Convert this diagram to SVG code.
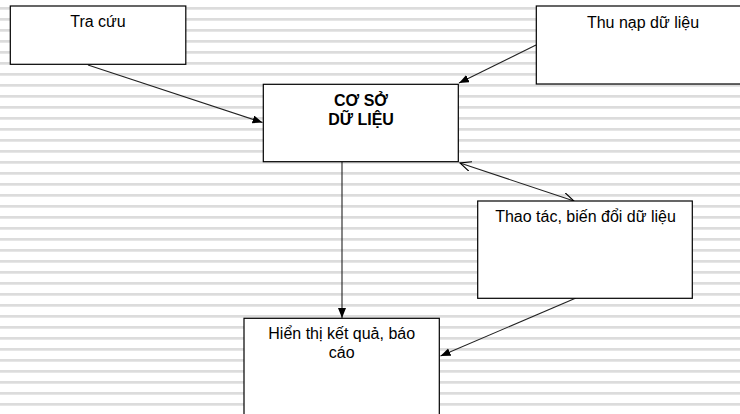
<svg xmlns="http://www.w3.org/2000/svg" width="740" height="414" viewBox="0 0 740 414">
<style>
.box{fill:#fff;stroke:#000;stroke-width:1.2}
.t{font-family:"Liberation Sans",Arial,sans-serif;font-size:16px;fill:#000;text-anchor:middle}
.b{font-weight:bold}
.c{stroke:#222;stroke-width:1.1;fill:none}
</style>
<defs>
<pattern id="stripes" x="0" y="0" width="740" height="11" patternUnits="userSpaceOnUse">
<rect x="0" y="7" width="740" height="2.7" fill="#dcdcdc"/>
</pattern>
<marker id="af" markerUnits="userSpaceOnUse" markerWidth="12" markerHeight="10" refX="10" refY="4" orient="auto">
<path d="M0,0 L10,4 L0,8 z" fill="#000"/>
</marker>
<marker id="ao" markerUnits="userSpaceOnUse" markerWidth="14" markerHeight="12" refX="11" refY="5" orient="auto-start-reverse">
<path d="M0,0 L11,5 L0,10" fill="none" stroke="#000" stroke-width="1.1"/>
</marker>
</defs>
<rect x="0" y="0" width="740" height="414" fill="#fff"/>
<rect x="0" y="0" width="740" height="414" fill="url(#stripes)"/>
<g id="connectors">
<line class="c" x1="88" y1="65" x2="262.5" y2="122.5" marker-end="url(#af)"/>
<line class="c" x1="536" y1="45" x2="459" y2="83" marker-end="url(#af)"/>
<line class="c" x1="460" y1="163" x2="574" y2="201" marker-start="url(#ao)" marker-end="url(#ao)"/>
<line class="c" x1="342" y1="162" x2="342" y2="318" marker-end="url(#af)"/>
<line class="c" x1="576" y1="298" x2="440.5" y2="356" marker-end="url(#af)"/>
</g>
<g id="tracuu">
<rect class="box" x="10.3" y="6" width="175.5" height="58.3"/>
<text class="t" x="98" y="27">Tra cứu</text>
</g>
<g id="thunap">
<rect class="box" x="536.3" y="6" width="214" height="78"/>
<text class="t" x="643" y="28">Thu nạp dữ liệu</text>
</g>
<g id="csdl">
<rect class="box" x="263.3" y="84.3" width="195" height="77.4"/>
<text class="t b" x="361" y="106">CƠ SỞ</text>
<text class="t b" x="361" y="125">DỮ LIỆU</text>
</g>
<g id="thaotac">
<rect class="box" x="477.7" y="201" width="214.6" height="97.3"/>
<text class="t" x="585.5" y="222.3">Thao tác, biến đổi dữ liệu</text>
</g>
<g id="hienthi">
<rect class="box" x="244" y="318.3" width="195.3" height="110"/>
<text class="t" x="341.7" y="339">Hiển thị kết quả, báo</text>
<text class="t" x="341.7" y="358.3">cáo</text>
</g>
</svg>
